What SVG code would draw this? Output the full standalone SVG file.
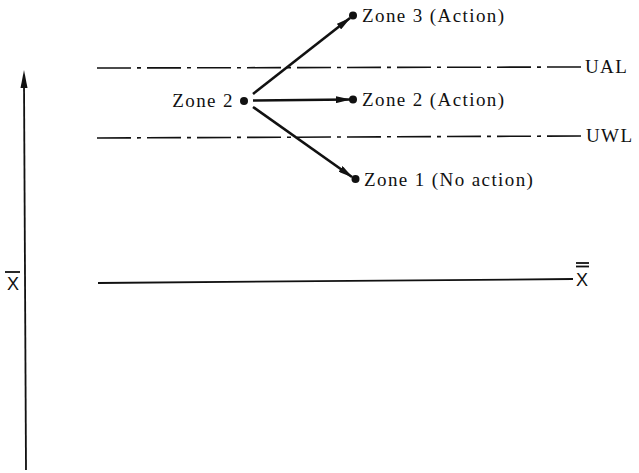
<svg xmlns="http://www.w3.org/2000/svg" width="639" height="473" viewBox="0 0 639 473">
<style>
.t{font-family:"Liberation Serif",serif;font-size:19px;letter-spacing:1.4px;fill:#111}
.x{font-family:"Liberation Sans",sans-serif;font-size:18px;fill:#111}
.dd{stroke:#111;stroke-width:1.6;fill:none;stroke-dasharray:34 6 4 6}
.ln{stroke:#111;stroke-width:1.8;fill:none}
.ar{stroke:#111;stroke-width:2.6;fill:none;marker-end:url(#ah)}
.dot{fill:#111}
</style>
<defs>
<marker id="ah" viewBox="0 0 15 7" refX="14" refY="3.5" markerWidth="15" markerHeight="7" markerUnits="userSpaceOnUse" orient="auto">
<path d="M0,0 L15,3.5 L0,7 Z" fill="#111"/>
</marker>
</defs>
<g id="axis">
<line class="ln" x1="26" y1="470" x2="24" y2="80"/>
<path d="M24,70 L20.5,88 L27.5,88 Z" fill="#111"/>
</g>
<g id="xbar-label">
<text class="x" x="7" y="290">X</text>
<line class="ln" x1="5" y1="272" x2="20" y2="272"/>
</g>
<g id="ual">
<line class="dd" x1="97" y1="68" x2="583" y2="67"/>
<text class="t" x="585" y="73">UAL</text>
</g>
<g id="uwl">
<line class="dd" x1="97" y1="138" x2="583" y2="136"/>
<text class="t" x="586" y="142">UWL</text>
</g>
<g id="xbarbar">
<line class="ln" x1="98" y1="283" x2="573" y2="279"/>
<text class="x" x="576" y="286">X</text>
<line class="ln" x1="576" y1="263" x2="589" y2="263"/>
<line class="ln" x1="576" y1="266.5" x2="589" y2="266.5"/>
</g>
<g id="zone2">
<circle class="dot" cx="244" cy="101" r="4"/>
<text class="t" x="234" y="107" text-anchor="end">Zone 2</text>
</g>
<g id="zone3">
<circle class="dot" cx="353" cy="15.5" r="4"/>
<text class="t" x="362" y="22">Zone 3 (Action)</text>
</g>
<g id="zone2a">
<circle class="dot" cx="353" cy="99.5" r="4"/>
<text class="t" x="362" y="106">Zone 2 (Action)</text>
</g>
<g id="zone1">
<circle class="dot" cx="355.5" cy="179" r="4"/>
<text class="t" x="364" y="186">Zone 1 (No action)</text>
</g>
<g id="connectors">
<line class="ar" x1="253" y1="94" x2="350" y2="18"/>
<line class="ar" x1="253" y1="100.5" x2="350" y2="99.5"/>
<line class="ar" x1="253" y1="107" x2="352" y2="177"/>
</g>
</svg>
